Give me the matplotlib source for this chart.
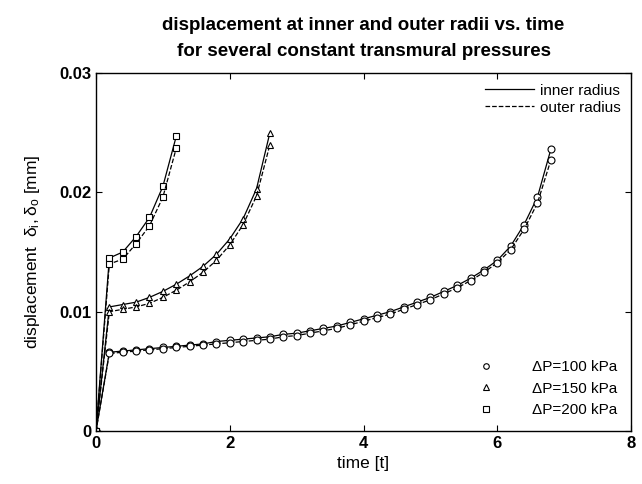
import matplotlib
matplotlib.use('Agg')
from matplotlib import pyplot as plt
from matplotlib.lines import Line2D

plt.rcParams['font.family'] = ['Liberation Sans', 'DejaVu Sans']

# time points and displacements (mm)
t_100 = [0, 0.2, 0.4, 0.6, 0.8, 1.0, 1.2, 1.4, 1.6, 1.8, 2.0, 2.2, 2.4, 2.6, 2.8, 3.0,
         3.2, 3.4, 3.6, 3.8, 4.0, 4.2, 4.4, 4.6, 4.8, 5.0, 5.2, 5.4, 5.6, 5.8, 6.0,
         6.2, 6.4, 6.6, 6.8]
inner_100 = [0, 0.0066, 0.0067, 0.0068, 0.0069, 0.0070, 0.0071, 0.0072, 0.0073, 0.0075,
             0.0076, 0.0077, 0.0078, 0.0079, 0.0081, 0.0082, 0.0084, 0.0086, 0.0088,
             0.0091, 0.0094, 0.0097, 0.0100, 0.0104, 0.0108, 0.0112, 0.0117, 0.0122,
             0.0128, 0.0135, 0.0143, 0.0155, 0.0173, 0.0196, 0.0236]
outer_100 = [0, 0.0065, 0.0066, 0.0067, 0.0068, 0.0069, 0.0070, 0.0071, 0.0072, 0.0073,
             0.0074, 0.0075, 0.0076, 0.0077, 0.0079, 0.0080, 0.0082, 0.0084, 0.0086,
             0.0089, 0.0092, 0.0095, 0.0098, 0.0102, 0.0106, 0.0110, 0.0115, 0.0120,
             0.0126, 0.0133, 0.0141, 0.0152, 0.0169, 0.0191, 0.0227]

t_150 = [0, 0.2, 0.4, 0.6, 0.8, 1.0, 1.2, 1.4, 1.6, 1.8, 2.0, 2.2, 2.4, 2.6]
inner_150 = [0, 0.0104, 0.0106, 0.0108, 0.0112, 0.0117, 0.0123, 0.0130, 0.0138, 0.0148,
             0.0161, 0.0178, 0.0203, 0.0250]
outer_150 = [0, 0.0100, 0.0102, 0.0104, 0.0107, 0.0112, 0.0118, 0.0125, 0.0133, 0.0143,
             0.0156, 0.0173, 0.0197, 0.0240]

t_200 = [0, 0.2, 0.4, 0.6, 0.8, 1.0, 1.2]
inner_200 = [0, 0.0145, 0.0150, 0.0163, 0.0179, 0.0205, 0.0247]
outer_200 = [0, 0.0140, 0.0144, 0.0157, 0.0172, 0.0196, 0.0237]

series = [
    (t_100, inner_100, outer_100, 'o', '\u0394P=100 kPa'),
    (t_150, inner_150, outer_150, '^', '\u0394P=150 kPa'),
    (t_200, inner_200, outer_200, 's', '\u0394P=200 kPa'),
]

fig = plt.figure(figsize=(6.42, 4.84), dpi=100)
ax = fig.add_axes([0.1495, 0.1095, 0.8335, 0.7395])

for t, inner, outer, mk, lab in series:
    ax.plot(t, inner, '-', color='black', lw=0.9, marker=mk, ms=5,
            mfc='white', mec='black', mew=0.8)
    ax.plot(t, outer, '--', color='black', lw=0.9, marker=mk, ms=5,
            mfc='white', mec='black', mew=0.8)

ax.set_xlim(0, 8)
ax.set_ylim(0, 0.03)
ax.set_xticks([0, 2, 4, 6, 8])
ax.set_xticklabels(['0', '2', '4', '6', '8'])
ax.set_yticks([0, 0.01, 0.02, 0.03])
ax.set_yticklabels(['0', '0.01', '0.02', '0.03'])
ax.tick_params(direction='in', top=True, right=True, labelsize=12, length=4)
for lbl in ax.get_xticklabels() + ax.get_yticklabels():
    lbl.set_fontweight('bold')
for sp in ax.spines.values():
    sp.set_linewidth(1.0)

ax.set_xlabel('time [t]', fontsize=12.5, labelpad=4)
ax.set_ylabel(r'displacement  $\mathregular{\delta_i,\delta_o}$ [mm]', fontsize=12.5, labelpad=12)
ax.set_title('displacement at inner and outer radii vs. time\nfor several constant transmural pressures',
             fontsize=13.5, fontweight='bold', pad=12, linespacing=1.75)

style_handles = [Line2D([], [], color='black', ls='-', lw=0.9),
                 Line2D([], [], color='black', ls='--', lw=0.9)]
leg1 = ax.legend(style_handles, ['inner radius', 'outer radius'], loc='upper right',
                 frameon=False, fontsize=11, handlelength=3.2, handletextpad=0.4,
                 labelspacing=0.2, borderaxespad=0.3)
ax.add_artist(leg1)

marker_handles = [Line2D([], [], ls='none', marker=mk, ms=4, mfc='white', mec='black', mew=0.8)
                  for _, _, _, mk, _ in series]
ax.legend(marker_handles, [s[4] for s in series], loc='lower right', frameon=False,
          fontsize=11, handletextpad=2.0, labelspacing=0.5, borderaxespad=0.5)

fig.savefig('out.png', dpi=100)
